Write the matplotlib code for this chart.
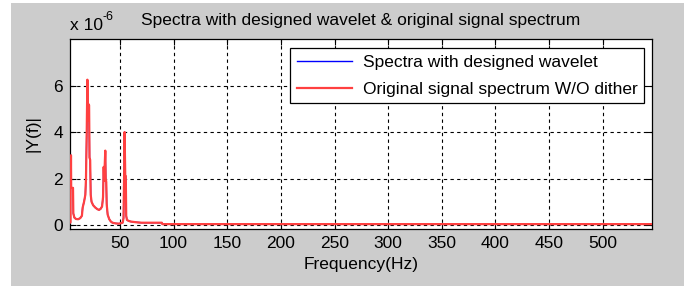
import matplotlib
matplotlib.use("Agg")
import matplotlib.pyplot as plt
from matplotlib.patches import Rectangle

plt.rcParams['font.family'] = ['Liberation Sans', 'DejaVu Sans']

# Data (amplitude in units of 1e-6)
freq = [3.4, 3.6, 3.8, 4.1, 4.3, 4.5, 6.2, 6.5, 7.5, 9, 11, 13, 14.5, 15.2, 16.5,
        17.7, 18.3, 19.0, 19.6, 20.1, 20.6, 21.2, 21.6, 22.2, 22.7, 23.5, 25, 27,
        29, 30.5, 32, 33.3, 34.2, 34.8, 35.3, 35.8, 36.3, 36.7, 37.2, 37.6, 38.5,
        40, 41.5, 43, 46, 49, 51, 52.5, 53.3, 53.8, 54.3, 54.9, 55.4, 55.8, 56.5,
        58, 60, 65, 70, 80, 89, 89.5, 100, 546]
orig_amp = [1.6, 0.1, 1.6, 1.6, 3.0, 1.6, 1.6, 0.5, 0.32, 0.26, 0.25, 0.3, 0.4,
            0.75, 1.0, 1.3, 2.0, 4.0, 6.25, 4.5, 5.2, 5.15, 2.9, 2.8, 1.3, 1.0,
            0.85, 0.75, 0.68, 0.65, 0.7, 0.8, 1.2, 2.5, 1.9, 2.6, 3.2, 2.0, 1.85,
            0.9, 0.45, 0.25, 0.15, 0.1, 0.07, 0.06, 0.08, 0.1, 0.3, 2.0, 4.0, 2.1,
            2.1, 0.4, 0.22, 0.18, 0.15, 0.12, 0.1, 0.1, 0.1, 0.04, 0.04, 0.04]
wavelet_amp = [1.6, 0.1, 1.6, 1.6, 3.0, 1.6, 1.6, 0.5, 0.32, 0.26, 0.25, 0.3, 0.4,
               0.75, 1.0, 1.3, 2.0, 4.0, 6.2, 4.5, 5.2, 5.15, 2.9, 2.8, 1.3, 1.0,
               0.85, 0.75, 0.68, 0.65, 0.7, 0.8, 1.2, 2.5, 1.9, 2.6, 3.2, 2.0, 1.85,
               0.9, 0.45, 0.25, 0.15, 0.1, 0.07, 0.06, 0.08, 0.1, 0.3, 2.0, 4.0, 2.1,
               2.1, 0.4, 0.22, 0.18, 0.15, 0.12, 0.1, 0.1, 0.1, 0.04, 0.04, 0.04]
xticks = [50, 100, 150, 200, 250, 300, 350, 400, 450, 500]
yticks = [0, 2, 4, 6]

W, H = 688, 286
fig = plt.figure(figsize=(W / 100, H / 100), dpi=100, facecolor='white')
fig.patches.append(Rectangle((11 / W, 0), (684 - 11) / W, (H - 3) / H,
                             transform=fig.transFigure, facecolor='#cccccc',
                             edgecolor='none', zorder=-10))

ax = fig.add_axes([70 / W, 1 - 229 / H, (652 - 70) / W, (229 - 39) / H])
ax.set_facecolor('white')
ax.plot(freq, wavelet_amp, color='#0000ff', lw=1.0, label='Spectra with designed wavelet', zorder=3)
ax.plot(freq, orig_amp, color='#ff4040', lw=1.6, label='Original signal spectrum W/O dither', zorder=4)

ax.set_xlim(3.4, 546)
ax.set_ylim(-0.17, 8)
ax.set_xticks(xticks)
ax.set_yticks(yticks)
fs = 12.5
ax.tick_params(direction='in', length=4, width=0.8, top=True, right=True,
               labelsize=fs, colors='black', pad=5)
for s in ax.spines.values():
    s.set_linewidth(0.9)
    s.set_color('black')
ax.grid(True, color='black', linestyle=(0, (3, 3)), linewidth=0.8)
ax.set_axisbelow(True)

ax.set_xlabel('Frequency(Hz)', fontsize=fs, labelpad=4)
ax.set_ylabel('|Y(f)|', fontsize=fs, labelpad=9)
ax.set_title('Spectra with designed wavelet & original signal spectrum', fontsize=fs, pad=10)
fig.text(70 / W, 1 - 30 / H, 'x 10', fontsize=fs, ha='left', va='baseline')
fig.text(103 / W, 1 - 20 / H, '-6', fontsize=fs * 0.72, ha='left', va='baseline')

leg = ax.legend(loc='upper right', bbox_to_anchor=(0.986, 0.953), fontsize=fs,
                frameon=True, fancybox=False, edgecolor='black', framealpha=1,
                borderaxespad=0, handlelength=3.2, handletextpad=0.6,
                labelspacing=0.68, borderpad=0.38)
leg.get_frame().set_linewidth(0.9)
leg.set_zorder(10)

fig.savefig('out.png', dpi=100, facecolor=fig.get_facecolor())
